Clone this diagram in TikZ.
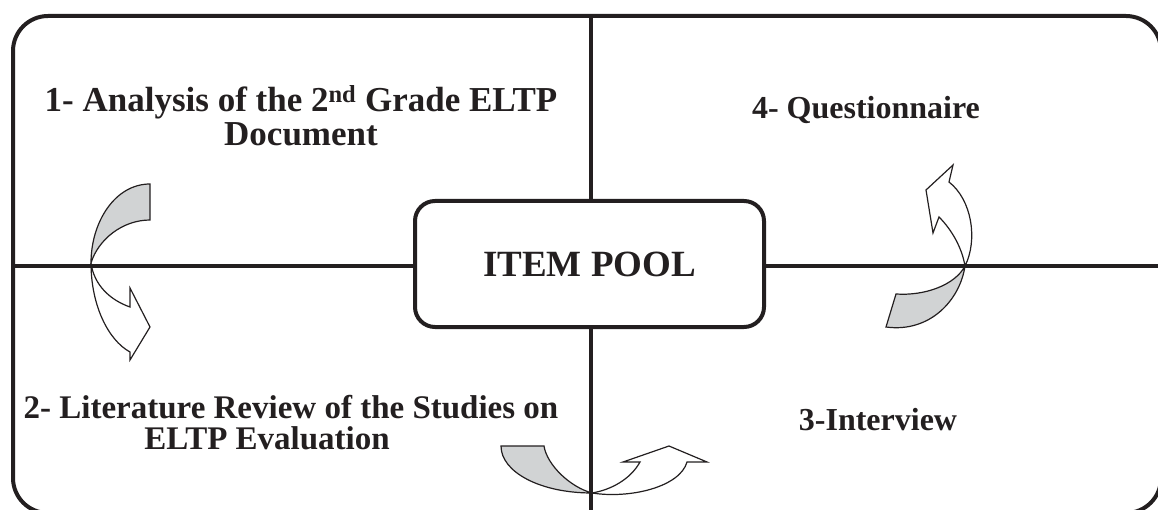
\documentclass[tikz,border=0pt]{standalone}
\usepackage{fontspec}
\setmainfont{Liberation Serif}
\definecolor{arrgrey}{RGB}{209,211,212}
\definecolor{ink}{RGB}{35,31,32}
\begin{document}
\begin{tikzpicture}[x=1pt,y=-1pt,
  frame/.style={draw=ink,line width=4pt,rounded corners=35pt},
  cross/.style={draw=ink,line width=4.5pt},
  poolbox/.style={draw=ink,line width=4pt,rounded corners=20pt,minimum width=349pt,minimum height=126pt,inner sep=0pt,font=\fontsize{37}{40}\selectfont\bfseries,text=ink},
  quadtext/.style={align=center,inner sep=0pt,text=ink},
  bigq/.style={quadtext,font=\fontsize{35}{34}\selectfont\bfseries},
  midq/.style={quadtext,font=\fontsize{33}{31}\selectfont\bfseries},
  smallq/.style={quadtext,font=\fontsize{32}{30}\selectfont\bfseries},
  greyband/.style={draw=ink,line width=1.2pt,fill=arrgrey,line join=miter},
  whiteband/.style={draw=ink,line width=1.2pt,fill=white,line join=miter}]
\useasboundingbox (0,0) rectangle (1158,510);
% outer frame
\draw[frame] (13,16) rectangle (1161,513);
% named end points of the cross
\coordinate (top) at (591,16);
\coordinate (bottom) at (591,513);
\coordinate (left) at (13,266);
\coordinate (right) at (1161,266);
\node[poolbox] (pool) at (589.5,264) {ITEM POOL};
\draw[cross] (top) -- (pool.north -| top);
\draw[cross] (pool.south -| bottom) -- (bottom);
\draw[cross] (left) -- (pool.west |- left);
\draw[cross] (pool.east |- right) -- (right);
% quadrant texts
\node[bigq] (t1) at (301,116) {1- Analysis of the 2\textsuperscript{nd} Grade ELTP\\Document};
\node[smallq] (t4) at (866,110) {4- Questionnaire};
\node[midq] (t2a) at (291,407) {2- Literature Review of the Studies on};
\node[midq] (t2b) at (267,438) {ELTP Evaluation};
\node[smallq] (t3) at (878,420) {3-Interview};
% left curved arrow (1 -> 2)
\draw[whiteband] (91,263) .. controls (91,305) and (108,340) .. (130,352) -- (130,360) -- (150,327) -- (130,288) -- (130,307) .. controls (110,300) and (94,285) .. (91,263) -- cycle;
\draw[greyband] (150,184) .. controls (115,184) and (91,222) .. (91,263) .. controls (98,240) and (122,220) .. (150,220) -- cycle;
% bottom curved arrow (2 -> 3)
\draw[whiteband] (592,493) .. controls (630,499) and (680,487) .. (687,462) -- (707,462) -- (669,446) -- (623,462) -- (640,462) .. controls (630,480) and (610,490) .. (592,493) -- cycle;
\draw[greyband] (501,446) .. controls (501,472) and (540,493) .. (592,493) .. controls (570,487) and (547,465) .. (544,446) -- cycle;
% right curved arrow (3 -> 4)
\draw[whiteband] (965,266) .. controls (978,240) and (972,200) .. (949,182) -- (953,165) -- (926,190) -- (933,233) -- (939,217) .. controls (952,230) and (962,248) .. (965,266) -- cycle;
\draw[greyband] (965,266) .. controls (960,300) and (930,333) .. (886,327) -- (896,294) .. controls (925,296) and (955,285) .. (965,266) -- cycle;
\end{tikzpicture}
\end{document}
